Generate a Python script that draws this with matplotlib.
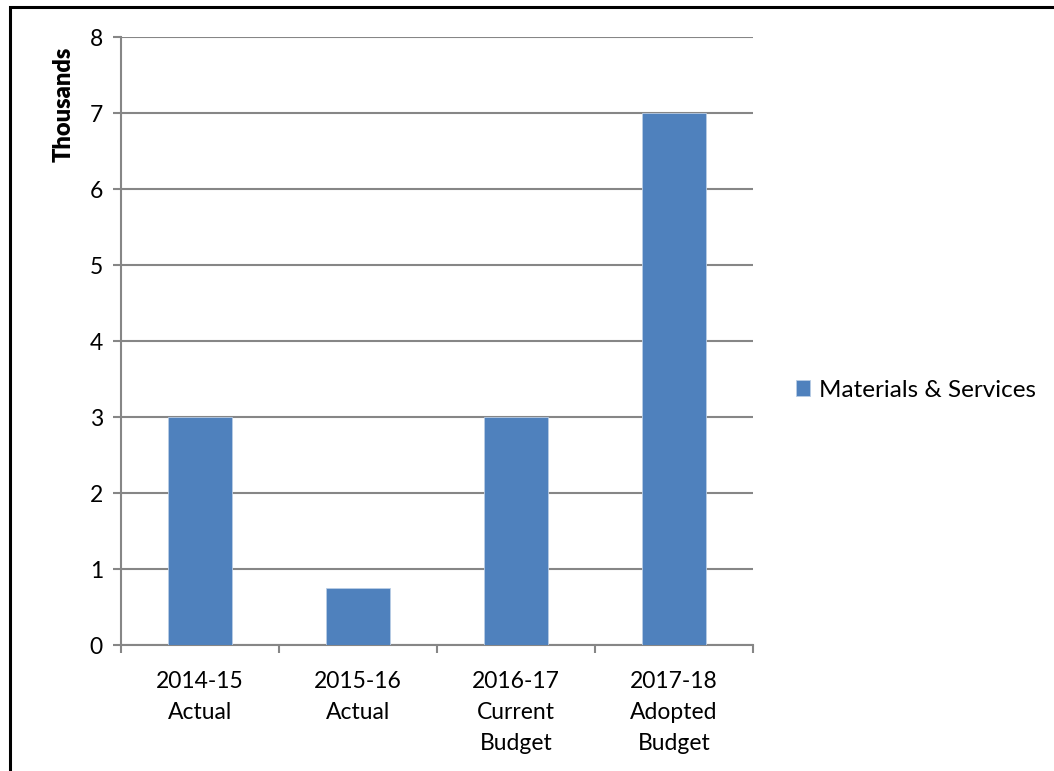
import matplotlib
matplotlib.use('Agg')
import matplotlib.pyplot as plt
import matplotlib.patches as patches
import numpy as np

plt.rcParams['font.family'] = ['Lato', 'DejaVu Sans']

categories = ['2014-15\nActual', '2015-16\nActual', '2016-17\nCurrent\nBudget',
              '2017-18\nAdopted\nBudget']
values = [3.0, 0.75, 3.0, 7.0]  # thousands
series_name = 'Materials & Services'

grey = '#868686'
blue = '#4F81BD'
fs = 16.5

fig = plt.figure(figsize=(10.54, 7.71), dpi=100)
ax = fig.add_axes([0.1148, 0.1634, 0.5996, 0.7886])

x = np.arange(len(categories))
ax.bar(x, values, width=0.4, color=blue, edgecolor='#B9CDE5', linewidth=0.6,
       zorder=3, label=series_name)

ax.set_xlim(-0.5, len(categories) - 0.5)
ax.set_ylim(0, 8)
ax.set_yticks(range(0, 9))
ax.yaxis.grid(True, color=grey, linewidth=1.5, zorder=0)

# category boundaries carry the ticks, labels sit centred under each bar
ax.set_xticks(np.arange(-0.5, len(categories), 1.0))
ax.set_xticklabels([])
ax.set_xticks(x, minor=True)
ax.set_xticklabels(categories, minor=True, fontsize=fs, linespacing=1.58)
ax.tick_params(axis='x', which='minor', length=0, pad=19)
ax.tick_params(axis='x', which='major', length=6, width=1.5, color=grey)
ax.tick_params(axis='y', length=6, width=1.5, color=grey, labelsize=fs, pad=7)

for s in ['top', 'right']:
    ax.spines[s].set_visible(False)
for s in ['left', 'bottom']:
    ax.spines[s].set_color(grey)
    ax.spines[s].set_linewidth(1.5)

fig.text(0.060, 0.865, 'Thousands', rotation=90, fontsize=17,
         fontweight='heavy', ha='center', va='center')

fig.legend(loc='center left', bbox_to_anchor=(0.734, 0.494), frameon=False,
           fontsize=17.5, handlelength=0.6, handleheight=0.6,
           handletextpad=0.35)

# chart frame, open at the right and bottom edges
fig.patches.append(patches.Rectangle((10 / 1054, -0.1), 1.2, 1.1 - 7 / 771,
                                     transform=fig.transFigure, fill=False,
                                     edgecolor='black', linewidth=2.2))

fig.savefig('out.png', dpi=100)
